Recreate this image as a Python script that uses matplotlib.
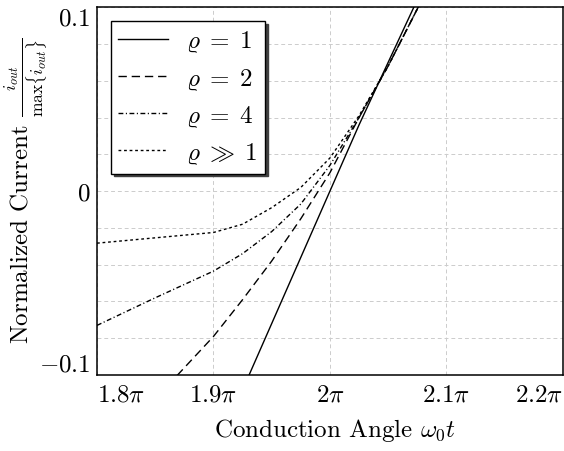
import matplotlib
matplotlib.use('Agg')
import matplotlib.pyplot as plt
import numpy as np
from matplotlib.ticker import MultipleLocator

# Fuente tipo LaTeX (Computer Modern incluida en matplotlib)
plt.rcParams['font.family'] = 'serif'
plt.rcParams['font.serif'] = ['cmr10']
plt.rcParams['mathtext.fontset'] = 'cm'
plt.rcParams['axes.formatter.use_mathtext'] = True

# Datos (angulo en multiplos de pi)
angulo = [1.8, 1.85, 1.9, 1.925, 1.95, 1.975, 2.0, 2.025, 2.05, 2.075, 2.1]
rho_1 = [-0.288, -0.216, -0.144, -0.108, -0.072, -0.036, 0.0, 0.036, 0.070, 0.104, 0.138]
rho_2 = [-0.146, -0.113, -0.079, -0.059, -0.038, -0.015, 0.010, 0.040, 0.068, 0.099, 0.130]
rho_4 = [-0.073, -0.058, -0.0435, -0.034, -0.022, -0.007, 0.014, 0.040, 0.068, 0.099, 0.130]
rho_inf = [-0.0283, -0.0254, -0.0225, -0.018, -0.009, 0.002, 0.018, 0.041, 0.068, 0.099, 0.130]

etiquetas = [r'$\varrho\;=\;1$', r'$\varrho\;=\;2$', r'$\varrho\;=\;4$', r'$\varrho\;\gg\;1$']
estilos = ['-', (0, (6, 3.5)), (0, (3.5, 1.8, 0.8, 1.8)), (0, (2, 2))]

xticks = [1.8, 1.9, 2.0, 2.1, 2.2]
xtick_labels = [r'$1.8\pi$', r'$1.9\pi$', r'$2\pi$', r'$2.1\pi$', r'$2.2\pi$']
yticks = [-0.1, 0, 0.1]
ytick_labels = [r'$-0.1$', r'$0$', r'$0.1$']

fig = plt.figure(figsize=(5.64, 4.52), dpi=100)
ax = fig.add_axes([0.172, 0.168, 0.826, 0.814])

x = np.array(angulo) * np.pi
for serie, estilo, etiqueta in zip([rho_1, rho_2, rho_4, rho_inf], estilos, etiquetas):
    ax.plot(x, serie, color='black', linestyle=estilo, linewidth=1.0, label=etiqueta)

ax.set_xlim(1.8 * np.pi, 2.2 * np.pi)
ax.set_ylim(-0.1, 0.1)

ax.set_xticks(np.array(xticks) * np.pi)
ax.set_xticklabels(xtick_labels, fontsize=18)
ax.set_yticks(yticks)
ax.set_yticklabels(ytick_labels, fontsize=18)
ax.yaxis.set_minor_locator(MultipleLocator(0.02))

# primera y ultima etiqueta hacia adentro
xl = ax.get_xticklabels()
xl[0].set_ha('left')
xl[-1].set_ha('right')
yl = ax.get_yticklabels()
yl[0].set_va('bottom')
yl[-1].set_va('top')

ax.tick_params(which='both', length=0)
ax.tick_params(axis='x', pad=6)
ax.tick_params(axis='y', pad=5)

ax.grid(True, axis='x', which='major', color='#cccccc', linestyle=(0, (4, 3)), linewidth=0.7)
ax.grid(True, axis='y', which='both', color='#cccccc', linestyle=(0, (4, 3)), linewidth=0.7)
ax.set_axisbelow(True)

for s in ax.spines.values():
    s.set_linewidth(1.1)

ax.set_xlabel(r'Conduction Angle $\omega_0 t$', fontsize=18)
ax.xaxis.set_label_coords(0.512, -0.112)
ax.set_ylabel(r'Normalized Current $\frac{i_{out}}{\max\{i_{out}\}}$', fontsize=18)
ax.yaxis.set_label_coords(-0.10, 0.505)

leg = ax.legend(loc='upper left', fontsize=18, frameon=True, fancybox=False,
                edgecolor='black', framealpha=1, shadow={'color': '#404040', 'alpha': 1},
                handlelength=2.0, handletextpad=0.7, borderpad=0.3, labelspacing=0.45,
                borderaxespad=0.55)
leg.get_frame().set_linewidth(1.0)

fig.savefig('out.png', dpi=100)
